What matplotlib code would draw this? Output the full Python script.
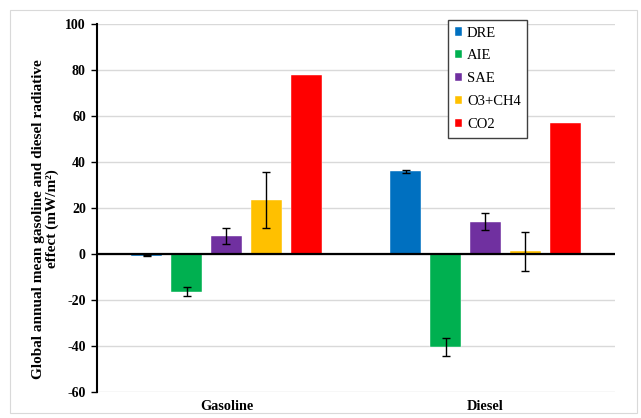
"""
Gasoline vs diesel radiative effect bar chart, with error bars.
"""
import numpy as np
import matplotlib
matplotlib.use("Agg")
import matplotlib.pyplot as plt
from matplotlib.patches import Rectangle

# ---------- data ----------
groups = ["Gasoline", "Diesel"]
components = ["DRE", "AIE", "SAE", "O3+CH4", "CO2"]
colors = ["#0070C0", "#00B050", "#7030A0", "#FFC000", "#FF0000"]

# values per component: [gasoline, diesel]
dre = [-0.8, 35.8]
aie = [-16.5, -40.4]
sae = [7.8, 14.0]
o3_ch4 = [23.3, 1.0]
co2 = [77.7, 56.8]

# error half-widths (None -> no error bar)
dre_err = [0.4, 0.5]
aie_err = [2.0, 3.9]
sae_err = [3.5, 3.6]
o3_ch4_err = [12.2, 8.6]
co2_err = [None, None]

values = [dre, aie, sae, o3_ch4, co2]
errors = [dre_err, aie_err, sae_err, o3_ch4_err, co2_err]

plt.rcParams["font.family"] = ["Liberation Serif", "DejaVu Serif"]

# ---------- plot ----------
fig = plt.figure(figsize=(6.41, 4.18), dpi=100)
ax = fig.add_axes([0.1513, 0.0629, 0.8081, 0.8804])

# Excel-style chart-area frame
fig.patches.append(Rectangle((10 / 641, 5 / 418), 627 / 641, 403 / 418,
                             transform=fig.transFigure, fill=False,
                             edgecolor="#d9d9d9", linewidth=0.8))

x = np.arange(len(groups))
width = 0.121
step = 0.154
for k, (name, col) in enumerate(zip(components, colors)):
    xs = x + (k - 2) * step
    ax.bar(xs, values[k], width, color=col, label=name, zorder=3,
           edgecolor="white", linewidth=0.3)
    for xi, v, e in zip(xs, values[k], errors[k]):
        if e is not None:
            ax.errorbar(xi, v, yerr=e, fmt="none", ecolor="black",
                        elinewidth=1.0, capsize=3, capthick=1.0, zorder=4)

ax.axhline(0, color="black", linewidth=1.6, zorder=5)

ax.set_xlim(-0.5, 1.5)
ax.set_ylim(-60, 100)
ax.set_yticks(range(-60, 101, 20))
ax.set_yticklabels([str(t) for t in range(-60, 101, 20)],
                   fontsize=10, fontweight="bold")
ax.set_xticks(x)
ax.set_xticklabels(groups, fontsize=10.3, fontweight="bold")
ax.tick_params(axis="x", length=0, pad=6)
ax.tick_params(axis="y", length=4, width=1, direction="out", pad=4)

ax.grid(axis="y", color="#d9d9d9", linewidth=1.0, zorder=0)
ax.set_axisbelow(True)
for s in ["top", "right", "bottom"]:
    ax.spines[s].set_visible(False)
ax.spines["left"].set_linewidth(1.5)

ax.set_ylabel("Global annual mean gasoline and diesel radiative\neffect (mW/m²)",
              fontsize=11, fontweight="bold", linespacing=1.05)
ax.yaxis.set_label_coords(-0.073, 0.469)

leg = ax.legend(loc="upper left", bbox_to_anchor=(448 / 641, 1 - 20 / 418),
                bbox_transform=fig.transFigure, fontsize=10.5,
                handlelength=0.5, handleheight=0.5, handletextpad=0.35,
                labelspacing=0.68, borderpad=0.45, borderaxespad=0,
                fancybox=False, framealpha=1)
leg.get_frame().set_edgecolor("#404040")
leg.get_frame().set_linewidth(1.0)

fig.savefig("out.png", dpi=100)
